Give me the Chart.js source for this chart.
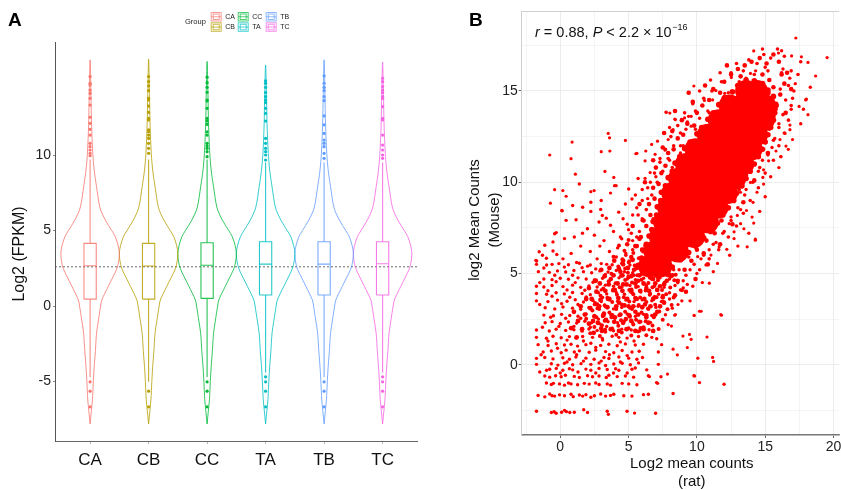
<!DOCTYPE html>
<html>
<head>
<meta charset="utf-8">
<script src="https://cdn.jsdelivr.net/npm/chart.js@4.4.1/dist/chart.umd.min.js"></script>
<style>
  html, body { margin: 0; padding: 0; background: #fff; overflow: hidden; width: 841px; height: 490px; }
  #wrapA { position: absolute; left: 0; top: 0; width: 430px; height: 490px; }
  #wrapB { position: absolute; left: 430px; top: 0; width: 420px; height: 490px; }
</style>
</head>
<body>
<div id="wrapA"><canvas id="chartA"></canvas></div>
<div id="wrapB"><canvas id="chartB"></canvas></div>
<script>
// ---------- panel A data ----------
const groups = ['CA', 'CB', 'CC', 'TA', 'TB', 'TC'];
const groupColors = ['#F8766D', '#B79F00', '#00BA38', '#00BFC4', '#619CFF', '#F564E3'];

// violin outline: log2 FPKM level and half width (in category units)
const violinLevels =    [-7.8, -7, -6.2, -5, -4, -3, -1.8, -1, 0, 0.4, 1.3, 2, 2.5, 3, 3.5, 4, 4.6, 5, 5.7, 6.5, 7.9, 9, 10.1, 12, 14];
const violinHalfWidth = [0, 0.02, 0.04, 0.055, 0.07, 0.09, 0.11, 0.14, 0.18, 0.2, 0.31, 0.4, 0.46, 0.49, 0.5, 0.48, 0.43, 0.37, 0.26, 0.17, 0.11, 0.07, 0.046, 0.025, 0.015];
const violinTop = [16.3, 16.35, 16.2, 15.95, 16.3, 16.15];

const boxQ1 =     [0.46, 0.46, 0.51, 0.73, 0.73, 0.73];
const boxMedian = [2.67, 2.65, 2.7, 2.78, 2.78, 2.8];
const boxQ3 =     [4.15, 4.15, 4.19, 4.26, 4.26, 4.26];
const whiskerLow =  [-4.7, -5.0, -4.7, -4.4, -4.7, -4.4];
const whiskerHigh = [9.7, 9.7, 9.7, 9.5, 9.5, 9.5];

const outliersHigh = [
  [15.19, 14.75, 14.64, 14.3, 14.08, 13.75, 13.31, 12.5, 12.1, 11.7, 11.32, 10.77, 10.55, 10.33, 10.11, 9.95],
  [15.19, 14.86, 14.57, 14.26, 13.75, 13.64, 13.24, 12.82, 12.42, 12.32, 11.66, 11.54, 11.32, 11.1, 10.77, 10.44, 10.11],
  [15.15, 14.79, 14.48, 14.15, 13.64, 13.58, 13.09, 12.42, 12.25, 12.03, 11.54, 11.32, 10.77, 10.6, 10.44, 10.22, 9.89],
  [14.91, 14.75, 14.48, 14.13, 13.87, 13.64, 13.47, 13.09, 12.76, 12.25, 11.1, 10.77, 10.44, 10.22, 10.0, 9.67],
  [15.24, 14.75, 14.48, 14.26, 13.87, 13.6, 12.59, 12.0, 11.43, 10.99, 10.77, 10.55, 10.11, 9.78],
  [15.08, 14.86, 14.53, 14.3, 14.13, 13.87, 13.75, 13.2, 12.42, 12.32, 11.32, 10.66, 10.33, 10.0, 9.78]
];
const outliersLow = [
  [-5.01, -5.63, -6.67],
  [-5.63, -6.67],
  [-5.01, -5.63, -6.67],
  [-4.68, -5.01, -5.63, -6.67],
  [-5.01, -5.63, -6.67],
  [-4.68, -5.01, -5.63, -6.67]
];
const overallMedian = 2.6;
const yTicksA = [-5, 0, 5, 10];

// ---------- panel B data: [log2 rat, log2 mouse] ----------
const coreBand = [
  [6.5,5.4],[7.4,5.4],
  [6.9,6.2],[7.8,6.2],[8.6,6.2],
  [7.3,7.0],[8.2,7.0],[9.1,7.0],[9.8,7.0],
  [7.6,7.8],[8.5,7.8],[9.4,7.8],[10.3,7.8],[10.8,7.8],
  [7.9,8.6],[8.8,8.6],[9.7,8.6],[10.6,8.6],[11.5,8.6],
  [8.2,9.4],[9.1,9.4],[10.0,9.4],[10.9,9.4],[11.8,9.4],[12.2,9.4],
  [8.7,10.2],[9.6,10.2],[10.5,10.2],[11.4,10.2],[12.3,10.2],[12.8,10.2],
  [9.2,11.0],[10.1,11.0],[11.0,11.0],[11.9,11.0],[12.8,11.0],[13.4,11.0],
  [9.9,11.8],[10.8,11.8],[11.7,11.8],[12.6,11.8],[13.5,11.8],[14.0,11.8],
  [10.8,12.6],[11.7,12.6],[12.6,12.6],[13.5,12.6],[14.4,12.6],
  [11.6,13.4],[12.5,13.4],[13.4,13.4],[14.3,13.4],[14.9,13.4],
  [12.4,14.2],[13.3,14.2],[14.2,14.2],[15.0,14.2],
  [13.6,15.0],[14.4,15.0]
];
const coreEdge = [
  [5.7,5.45],[5.95,5.85],[6.1,6.25],[6.3,6.6],[6.5,7.05],[6.7,7.4],[6.8,7.85],[7.05,8.2],[7.1,8.65],[7.35,9.0],
  [7.4,9.45],[7.7,9.8],[7.9,10.25],[8.2,10.6],[8.4,11.05],[8.75,11.4],[9.1,11.85],[9.5,12.2],[10.0,12.65],[10.35,13.0],
  [10.8,13.45],[11.2,13.8],[11.6,14.25],[12.0,14.6],[12.6,14.95],[13.0,15.3],[13.6,15.6],[14.2,15.55],[14.8,15.4],[15.2,15.05],
  [8.2,5.35],[7.9,4.95],[7.2,4.8],[6.6,4.8],[8.8,5.75],[9.4,6.15],[9.9,6.5],[10.5,6.95],[11.0,7.3],[11.5,7.75],
  [11.9,8.2],[12.3,8.6],[12.7,9.0],[12.9,9.4],[13.3,9.8],[13.6,10.2],[13.9,10.6],[14.2,11.0],[14.5,11.4],[14.8,11.8],
  [15.0,12.2],[15.2,12.6],[15.4,13.0],[15.6,13.4],[15.7,13.8],[15.8,14.2],[15.6,14.7],[15.2,14.9]
];
const haloBand = [
  [5.2,5.9],[5.6,6.5],[5.4,5.2],[5.9,7.0],[6.0,6.3],[6.3,7.6],[6.1,7.9],[6.6,8.2],[6.5,8.8],[6.9,9.1],
  [6.8,9.7],[7.2,9.9],[7.4,10.5],[7.0,10.8],[7.7,10.9],[7.9,11.6],[7.5,11.9],[8.3,11.8],[8.6,12.4],[8.2,12.8],
  [9.0,12.6],[9.3,13.2],[8.9,13.4],[9.8,13.1],[10.0,13.8],[10.4,14.2],[9.7,14.4],[10.9,14.5],[11.2,15.1],[11.7,14.9],
  [12.0,15.5],[12.5,15.9],[13.0,16.2],[13.5,16.4],[14.0,16.6],[14.6,16.8],[15.1,16.5],[15.6,17.0],[16.0,16.6],[13.2,15.8],
  [12.2,16.4],[10.6,15.3],[9.4,14.9],[8.4,13.9],[7.6,12.7],[6.8,11.2],[6.2,10.0],[5.8,8.8],[5.3,7.6],[4.9,6.6],
  [4.6,5.5],[5.0,4.8],[15.3,15.6],[14.8,15.9],[15.6,15.2],[16.2,15.9],
  [8.6,4.6],[9.1,5.2],[8.2,4.9],[9.6,5.7],[10.0,6.3],[10.5,6.1],[10.7,6.8],[11.3,7.2],[11.1,7.9],[11.8,7.9],
  [12.2,8.6],[12.0,9.2],[12.7,9.3],[13.1,9.9],[13.6,10.4],[13.9,11.0],[14.3,11.4],[14.6,12.0],[14.9,12.5],[15.3,13.0],
  [15.6,13.6],[15.8,14.3],[16.1,14.8],[16.4,15.4],[16.6,16.0],[15.2,11.6],[14.2,10.1],[13.4,8.9],[12.6,7.7],[11.7,6.6],
  [10.8,5.5],[9.9,4.7],[9.2,4.0],[8.4,3.8],[16.9,15.1],[16.5,13.8],
  [4.0,4.1],[4.6,4.4],[5.2,4.0],[5.7,4.6],[6.3,4.2],[6.8,4.7],[7.3,4.3],[7.8,4.6],[3.5,3.6],[4.3,3.4],
  [5.0,3.2],[5.6,3.6],[6.2,3.3],[6.9,3.7],[7.6,3.4],[3.2,2.8],[4.0,2.6],[4.8,2.5],[5.5,2.9],[6.3,2.6],
  [7.1,2.9],[3.7,4.7],[4.4,5.1],[6.0,5.0],[7.4,5.0],[8.0,5.3],[2.7,3.3],[2.4,2.4],[3.0,2.0],[5.9,2.0]
];
const tailDense = [
  [1.6,1.95],[2.1,2.25],[2.45,1.75],[2.75,2.3],[3.05,1.85],[3.35,2.45],[3.7,1.95],[3.95,2.35],[4.3,1.85],[4.6,2.3],
  [4.85,1.95],[5.2,2.4],[5.5,1.85],[5.8,2.35],[6.1,1.95],[6.45,2.3],[6.8,1.85],
  [1.8,2.75],[2.2,3.1],[2.5,2.65],[2.85,3.2],[3.15,2.7],[3.45,3.15],[3.8,2.7],[4.1,3.2],[4.4,2.75],
  [4.7,3.25],[5.05,2.7],[5.35,3.2],[5.7,2.75],[6.0,3.15],[6.3,2.7],[6.6,3.2],[6.95,2.75],[7.3,3.2],
  [2.3,3.6],[2.65,4.0],[2.95,3.55],[3.3,4.05],[3.6,3.6],[3.9,4.1],[4.25,3.65],[4.55,4.05],[4.9,3.6],[5.2,4.1],
  [5.5,3.65],[5.85,4.05],[6.15,3.6],[6.5,4.05],[6.8,3.6],[7.1,4.1],[7.5,3.7],
  [2.9,4.45],[3.25,4.85],[3.55,4.4],[3.9,4.9],[4.2,4.45],[4.55,4.9],[4.85,4.4],[5.2,4.85],[5.5,4.45],[5.8,4.9],
  [6.1,4.45],[6.95,4.45],[7.6,4.4],[8.1,4.85],
  [3.6,5.3],[3.95,5.7],[4.3,5.25],[4.6,5.7],[4.95,5.3],[5.3,5.75],[5.6,5.3],[5.95,5.75],[6.3,5.3],[6.0,6.3],
  [5.5,6.5],[5.8,6.9],
  [1.2,1.5],[0.8,2.0],[1.3,2.4],[1.0,2.9],[1.5,3.2],[1.9,3.6],[2.1,4.2],[2.6,4.6],[3.0,5.2]
];
const ringUpper = [
  [5.0,5.6],[5.3,6.3],[4.8,6.0],[5.6,7.0],[5.2,7.2],[6.0,7.9],[5.7,8.2],[6.3,8.5],[6.0,9.0],[6.7,9.3],
  [6.4,9.7],[7.1,10.0],[6.9,10.5],[7.5,10.6],[7.3,11.1],[7.9,11.3],[7.7,11.8],[8.3,12.0],[8.1,12.5],[8.8,12.7],
  [8.6,13.1],[9.3,13.3],[9.1,13.8],[9.9,13.9],[9.7,14.3],[10.5,14.6],[10.2,15.0],[11.1,15.0],[11.0,15.6],[11.8,15.5],
  [11.7,16.0],[12.5,16.0],[12.9,16.5],[13.4,16.1],[13.8,16.7],[14.4,16.5],[14.9,17.0],[15.4,16.8],[15.9,17.3],[16.4,16.9],
  [5.4,4.9],[6.2,6.5],[6.8,8.0],[7.6,9.6],[8.2,10.8],[9.0,12.0],[9.9,12.9],[10.9,13.8],[12.0,14.7],[13.1,15.5],
  [14.2,15.9],[15.2,16.1]
];
const ringLower = [
  [8.6,4.5],[9.2,4.9],[9.0,4.2],[9.8,5.5],[10.2,5.2],[10.5,6.0],[10.9,5.8],[11.2,6.6],[11.6,6.3],[11.9,7.2],
  [12.3,7.0],[12.5,7.9],[12.9,7.6],[13.0,8.6],[13.4,8.3],[13.5,9.3],[13.9,9.0],[14.1,10.0],[14.5,9.7],[14.6,10.8],
  [15.0,10.5],[15.2,11.5],[15.6,11.2],[15.6,12.3],[16.0,12.0],[16.0,13.0],[16.4,12.7],[16.3,13.7],[16.7,13.4],[16.5,14.5],
  [16.9,14.2],[16.7,15.3],[17.1,15.0],[16.9,16.1],[17.4,15.9],[17.6,16.6],[8.3,5.2],[9.4,5.9],[10.4,6.9],[11.4,7.7],
  [12.2,8.5],[13.1,9.6],[13.9,10.7],[14.7,11.9],[15.3,12.9],[15.8,14.0],[16.1,15.1],[16.2,16.0]
];
const tailSpeckle = [
  [2.2,1.72],[2.9,1.58],[3.3,1.8],[4.1,1.64],[4.5,1.77],[5.2,1.6],[5.7,1.82],[6.3,1.62],
  [2.5,2.07],[3.05,2.16],[3.8,1.98],[4.25,2.14],[5.0,2.0],[5.35,2.2],[6.1,2.06],[6.75,2.15],[7.2,1.96],
  [1.9,2.52],[2.65,2.6],[3.25,2.41],[3.75,2.6],[4.45,2.44],[5.1,2.63],[5.55,2.47],[6.25,2.38],[6.85,2.6],[7.5,2.46],
  [2.35,2.97],[2.85,3.05],[3.6,2.86],[4.1,3.06],[4.75,2.9],[5.25,3.05],[5.95,2.86],[6.45,3.06],[7.25,2.92],[7.85,3.04],
  [2.55,3.38],[3.25,3.26],[3.8,3.44],[4.5,3.3],[5.05,3.46],[5.75,3.27],[6.3,3.44],[6.95,3.28],[7.5,3.46],[8.15,3.27],
  [2.95,3.78],[3.45,3.67],[4.15,3.84],[4.65,3.7],[5.35,3.86],[5.85,3.68],[6.55,3.84],[7.05,3.7],[7.75,3.86],[8.3,3.69],
  [3.15,4.18],[3.85,4.07],[4.35,4.24],[5.05,4.1],[5.55,4.26],[6.25,4.07],[6.75,4.24],[7.45,4.1],[8.05,4.23],[8.9,4.08],
  [3.55,4.58],[4.05,4.47],[4.75,4.64],[5.25,4.5],[5.95,4.66],[6.45,4.48],[7.15,4.63],[7.65,4.5],[8.35,4.63],
  [3.75,4.98],[4.45,4.87],[4.95,5.04],[5.65,4.9],[6.25,5.06],[6.95,4.88],[7.55,5.03],[8.45,4.93],
  [4.25,5.38],[4.75,5.27],[5.45,5.43],[5.95,5.3],[6.65,5.45],[8.05,5.83],[8.7,6.04],
  [4.55,5.78],[5.05,5.67],[5.75,5.84],[6.2,5.7],[4.7,6.24],[5.35,6.12],[4.3,6.53],[3.9,5.92],[5.0,6.84]
];
const bandEdge = [
  [4.5,6.9],[5.0,7.4],[5.5,9.3],[6.0,9.6],[6.4,9.1],[5.7,10.2],[6.6,10.0],[7.0,10.3],[7.3,11.3],[8.0,11.2],
  [8.8,11.6],[8.0,13.0],[8.8,12.0],[9.2,12.9],[10.2,13.5],[10.8,13.9],[11.6,14.3],[12.3,14.9],[12.9,15.3],[13.6,15.7],
  [14.3,16.1],[15.0,16.3],[16.3,16.2],[16.8,15.7],[17.2,15.4],[17.0,14.6],[16.9,14.0],[16.0,13.2],[15.7,12.4],[15.5,11.9],
  [14.8,11.2],[14.5,10.6],[13.6,9.6],[13.2,8.5],[12.5,8.1],[12.0,7.3],[11.4,6.7],[10.9,6.3],[10.3,5.8],[9.5,5.2],
  [9.0,4.6],[8.8,4.1],[8.0,3.6],[7.5,3.8],[8.9,3.5],[9.3,4.4],[10.0,5.0],[10.4,4.5],[11.2,5.1],[12.4,6.0],
  [13.0,6.5],[13.8,7.2],[14.6,8.4],[15.0,9.2],[15.4,10.3],[16.0,10.8],[17.6,13.2],[17.8,14.0],[18.3,15.2],[16.2,17.2],
  [14.8,17.3]
];
const outlierCounts = [
  [17.24,17.9],[14.16,17.19],[15.97,17.08],[19.53,16.83],[16.93,16.92],[17.65,16.87],[18.13,16.56],[18.69,15.82],[12.52,15.74],[13.92,15.96],
  [9.78,15.27],[17.96,14.51],[17.48,14.15],[7.73,13.84],[8.02,13.79],[8.43,13.43],[9.1,13.52],[3.51,12.67],[3.61,12.43],[0.87,12.2],
  [4.77,12.29],[3.0,11.67],[3.63,11.71],[-0.77,11.49],[0.79,11.29],[5.61,11.58],[6.69,12.07],[16.81,12.88],[16.69,11.8],[16.08,12.34],
  [11.39,15.02],[12.04,14.87],[10.55,14.48],[9.39,13.61],[9.58,13.07],[8.26,12.88],[7.12,12.25],[6.26,11.71],[7.9,12.34],[1.11,10.44],
  [3.27,10.59],[3.92,10.26],[-0.41,9.59],[-0.72,8.85],[0.19,9.54],[0.43,9.23],[2.24,9.48],[2.48,9.54],[3.68,9.41],[3.97,9.81],
  [5.53,11.56],[6.21,10.21],[6.58,10.53],[6.94,11.53],[6.21,11.17],[7.66,11.76],[8.38,13.46],[7.77,13.83],[9.58,13.61],[11.15,14.51],
  [12.47,14.33],[18.01,14.55],[18.13,13.7],[16.81,13.13],[16.45,12.67],[17.0,12.34],[16.52,11.98],[16.13,11.4],[15.79,11.71],[15.25,11.17],
  [14.83,10.26],[14.4,9.45],[14.11,8.9],[14.16,7.76],[13.63,8.45],[13.68,6.46],[14.28,6.82],[12.72,6.91],[12.36,7.73],[12.96,8.18],
  [11.63,6.46],[11.03,6.01],[11.51,5.55],[10.66,5.47],[10.06,5.92],[13.44,7.45],[13.19,9.45],[13.92,9.99],[14.88,10.68],[14.88,9.9],
  [14.28,6.88],[12.19,6.32],[10.91,4.47],[11.75,2.75],[10.19,2.93],[8.43,2.75],[8.62,3.3],[12.72,7.28],[13.2,7.73],[14.04,8.09],
  [16.16,11.4],[11.8,2.71],[10.31,2.93],[8.38,2.71],[8.14,2.12],[7.9,2.2],[8.98,1.57],[9.46,1.66],[9.58,1.39],[10.74,1.52],
  [9.3,0.94],[8.26,0.85],[8.57,0.54],[10.07,0.36],[11.15,0.4],[11.22,0.18],[9.78,-0.6],[7.85,-0.51],[7.13,-1.02],[6.53,-0.65]
];
const midCounts = [
  [-1.78,5.72],[-1.54,6.19],[-1.3,6.0],[-0.53,6.73],[-0.29,7.24],[0.12,8.45],[0.91,8.72],[1.64,8.63],[2.24,8.9],[2.96,8.51],
  [3.08,8.18],[0.43,7.91],[1.16,7.94],[-0.41,7.18],[0.31,6.91],[1.03,7.0],[-1.13,6.55],[-0.53,6.23],[-1.73,5.68],[-1.01,5.83],
  [-0.25,6.04],[1.99,7.45],[2.24,8.4],[2.84,7.82],[3.37,8.03],[3.68,7.64],[4.28,8.36],[4.77,8.81],[5.25,9.08],[5.01,9.63],
  [4.09,9.81],[0.14,8.43],[1.63,7.2],[2.5,7.1],[3.2,6.8],[3.9,7.3],[4.4,7.0],[4.9,7.7],[5.3,8.2],[5.6,8.6],
  [4.2,6.4],[3.6,6.2],[2.9,6.5],[2.2,6.2],[1.5,6.5],[0.8,6.1],[0.2,5.8],[-0.6,5.5],[1.2,5.6],[2.0,5.4],
  [2.7,5.8],[3.4,5.5],[4.1,5.9],[4.8,6.1],[5.3,6.8],[5.8,7.3],[6.0,8.0],[4.6,8.0],[3.0,9.0],[1.4,9.9]
];
const lowCounts = [
  [-1.74,-2.55],[-0.65,-2.62],[-0.45,-2.58],[-0.3,-2.66],[0.1,-2.6],[0.31,-2.5],[0.45,-2.57],[0.7,-2.62],[1.03,-2.6],[1.72,-2.47],
  [2.0,-2.62],[3.44,-2.55],[3.52,-2.72],[4.89,-2.55],[5.44,-2.65],[6.98,-2.66],
  [-1.62,-1.68],[-1.13,-1.76],[-0.77,-1.6],[-0.6,-1.7],[-0.41,-1.72],[-0.05,-1.65],[0.31,-1.7],[0.79,-1.62],[0.95,-1.75],[1.4,-1.66],
  [1.64,-1.72],[1.88,-1.64],[2.24,-1.78],[2.5,-1.7],[2.96,-1.6],[3.32,-1.72],[3.68,-1.68],[3.92,-1.62],[4.65,-1.7],[5.25,-1.72],
  [6.09,-1.64],[6.45,-1.62],[8.26,-1.58],
  [-1.01,-1.0],[-0.65,-1.08],[-0.5,-1.02],[-0.05,-1.05],[0.31,-1.12],[0.6,-1.0],[0.79,-1.05],[1.27,-1.1],[1.76,-1.02],[2.12,-1.06],
  [2.6,-1.0],[2.84,-1.08],[3.44,-1.05],[3.68,-1.12],[4.53,-1.02],[5.01,-1.05],[5.61,-1.1],[7.05,-0.98],[10.19,-0.98],[11.99,-1.07],
  [-1.13,-0.62],[-0.77,-0.68],[-0.34,-0.6],[0.07,-0.66],[0.38,-0.58],[1.03,-0.64],[1.4,-0.7],[2.0,-0.6],[2.36,-0.66],[2.84,-0.62],
  [3.37,-0.7],[3.56,-0.58],[4.17,-0.65],[4.77,-0.62],[5.37,-0.68],[6.45,-0.6],[7.37,-0.66],[9.83,-0.62],
  [-0.77,-0.25],[-0.29,-0.2],[0.19,-0.3],[0.67,-0.22],[0.91,-0.28],[1.88,-0.24],[2.24,-0.3],[2.84,-0.2],[3.44,-0.26],[4.05,-0.22],
  [4.29,-0.3],[5.25,-0.25],[5.49,-0.18],[6.33,-0.28],
  [-1.74,0.02],[-0.65,0.05],[-0.17,-0.02],[0.31,0.08],[0.91,0.0],[1.52,0.06],[2.24,0.02],[2.84,0.1],[3.32,-0.04],[3.92,0.04],
  [4.53,0.08],[5.13,0.0],[5.73,0.1],[7.18,0.02],[-1.74,0.35],[-1.13,0.4],[-0.53,0.32],[0.19,0.38],[0.67,0.3],[1.15,0.42],
  [1.88,0.36],[2.48,0.3],[3.2,0.4],[3.56,0.34],[4.29,0.42],[5.01,0.36],[5.61,0.3],[6.02,0.4],
  [-1.25,0.7],[-0.65,0.75],[0.07,0.66],[0.43,0.8],[1.03,0.7],[1.4,0.76],[2.12,0.68],[2.6,0.8],[3.32,0.72],[3.92,0.66],
  [4.53,0.78],[5.25,0.7],[5.78,0.74],[7.18,0.7],[-1.62,1.1],[-0.89,1.05],[-0.29,1.15],[0.31,1.08],[0.79,1.12],[1.27,1.02],
  [1.88,1.1],[2.24,1.18],[2.96,1.06],[3.56,1.12],[4.17,1.04],[4.77,1.14],[5.49,1.08],[6.09,1.12],[7.42,1.1],
  [-1.74,1.5],[-1.01,1.45],[-0.53,1.56],[0.07,1.48],[0.67,1.54],[1.15,1.46],[1.64,1.55],[2.36,1.5],[3.08,1.44],[3.8,1.56],
  [4.29,1.5],[4.89,1.46],[5.73,1.55],[6.7,1.5],[7.06,1.42],[-1.74,1.9],[-0.8,1.85],[-0.3,1.95],[0.4,1.88],[1.0,1.92],
  [1.6,1.84],[2.1,1.96],[2.7,1.88],[3.3,1.94],[3.9,1.86],[4.5,1.95],[5.2,1.9],[5.8,1.84],[6.5,1.92],
  [-1.1,2.3],[-0.6,2.36],[0.0,2.26],[0.6,2.34],[1.2,2.28],[1.8,2.38],[2.3,2.3],[2.9,2.24],[3.5,2.36],[4.2,2.3],
  [4.7,2.4],[5.3,2.3],[5.9,2.36],[6.6,2.32],[-1.2,2.72],[-0.5,2.68],[0.1,2.76],[0.7,2.7],[1.3,2.66],[1.9,2.78],
  [2.5,2.7],[3.1,2.64],[3.7,2.74],[4.3,2.7],[4.9,2.78],[5.5,2.66],[6.1,2.76],[6.7,2.7],[7.7,2.74],[9.8,2.7],
  [-1.1,3.12],[-0.4,3.06],[0.2,3.16],[0.9,3.1],[1.5,3.04],[2.1,3.14],[2.7,3.08],[3.3,3.18],[3.9,3.06],[4.5,3.14],
  [5.1,3.1],[5.7,3.2],[6.4,3.08],[7.0,3.14],[8.2,3.1],[-1.74,3.5],[-0.9,3.46],[-0.2,3.54],[0.5,3.48],[1.1,3.56],
  [1.7,3.44],[2.4,3.52],[3.0,3.46],[3.6,3.56],[4.2,3.48],[4.8,3.54],[5.4,3.46],[6.0,3.56],[6.7,3.5],[7.4,3.46],[9.5,3.5],
  [-1.74,3.9],[-1.0,3.86],[-0.3,3.94],[0.3,3.88],[0.9,3.96],[1.6,3.9],[2.2,3.84],[2.8,3.94],[3.4,3.88],[4.1,3.96],
  [4.7,3.86],[5.3,3.92],[5.9,3.98],[6.6,3.9],[7.2,3.86],[8.0,3.94],[-1.74,4.3],[-1.2,4.26],[-0.6,4.34],[0.2,4.28],
  [0.9,4.36],[1.5,4.24],[2.1,4.32],[2.7,4.26],[3.3,4.36],[3.9,4.3],[4.5,4.24],[5.1,4.34],[5.7,4.28],[6.3,4.36],
  [6.9,4.3],[7.6,4.24],[8.4,4.34],[9.7,4.3],
  [-1.2,4.7],[-0.6,4.66],[0.0,4.74],[0.6,4.68],[1.3,4.76],[1.9,4.7],[2.5,4.64],[3.1,4.74],[3.7,4.68],[4.3,4.76],
  [4.9,4.7],[5.5,4.66],[6.1,4.74],[6.7,4.68],[7.3,4.76],[8.0,4.7],[-1.6,5.1],[-0.8,5.06],[-0.2,5.14],[0.4,5.08],
  [1.0,5.16],[1.7,5.1],[2.3,5.04],[2.9,5.14],[3.5,5.08],[4.1,5.16],[4.7,5.1],[5.3,5.04],[6.0,5.14],[7.0,5.1],
  [8.7,5.2],[-1.74,5.5],[-1.0,5.46],[-0.1,5.54],[0.6,5.48],[1.4,5.56],[2.2,5.46],[3.0,5.54],[3.8,5.48],[4.5,5.56],[5.1,5.46]
];
const lowExtra = [
  [-1.4,0.55],[-0.9,1.3],[-0.2,0.9],[0.5,1.35],[1.2,0.55],[1.7,1.3],[2.6,0.95],[3.1,1.35],[3.6,0.55],[4.4,1.25],[4.9,0.5],[5.4,1.3],
  [-1.3,2.05],[-0.7,2.6],[-0.1,2.1],[0.4,2.55],[1.0,2.1],[1.5,2.55],[2.2,2.05],[2.8,2.5],[3.4,2.1],[4.0,2.55],
  [-1.5,3.3],[-0.6,3.75],[0.1,3.35],[0.7,3.7],[1.3,3.3],[1.9,3.72],[2.5,3.3],[3.1,3.68],
  [-1.5,4.5],[-0.9,4.05],[-0.3,4.55],[0.5,4.1],[1.1,4.5],[1.8,4.08],[2.4,4.52],[3.0,4.1],
  [-1.2,5.3],[-0.4,4.9],[0.3,5.35],[0.9,4.9],[1.6,5.32],[2.6,5.25],[3.3,4.95],
  [-1.5,-0.4],[-1.0,-0.3],[0.0,-0.45],[0.5,0.15],[1.3,-0.4],[1.7,0.2],[2.6,-0.45],[3.0,0.2],[3.9,-0.45],[4.4,0.15],[4.9,-0.45]
];
const xTicksB = [-2.5, 0, 2.5, 5, 7.5, 10, 12.5, 15, 17.5, 20];
const yTicksB = [-2.5, 0, 2.5, 5, 7.5, 10, 12.5, 15, 17.5];

const FONT = "'Liberation Sans', Arial, sans-serif";
Chart.defaults.font.family = FONT;
Chart.defaults.animation = false;

function withAlpha(hex, a) {
  const n = parseInt(hex.slice(1), 16);
  return `rgba(${(n >> 16) & 255},${(n >> 8) & 255},${n & 255},${a})`;
}

// ---------- panel A datasets ----------
const dsA = [];
groups.forEach((g, i) => {
  const c = i + 1;
  const col = groupColors[i];
  const outline = [];
  violinLevels.forEach((lv, k) => outline.push({ x: c - violinHalfWidth[k], y: lv }));
  outline.push({ x: c, y: violinTop[i] });
  for (let k = violinLevels.length - 1; k >= 0; k--) outline.push({ x: c + violinHalfWidth[k], y: violinLevels[k] });
  dsA.push({ data: outline, showLine: true, borderColor: withAlpha(col, 0.8), borderWidth: 1, pointRadius: 0, tension: 0.3, fill: false });

  const hw = 0.105;
  const box = [
    { x: c - hw, y: boxQ1[i] }, { x: c + hw, y: boxQ1[i] }, { x: c + hw, y: boxQ3[i] }, { x: c - hw, y: boxQ3[i] }, { x: c - hw, y: boxQ1[i] },
    { x: c, y: null },
    { x: c - hw, y: boxMedian[i] }, { x: c + hw, y: boxMedian[i] },
    { x: c, y: null },
    { x: c, y: boxQ3[i] }, { x: c, y: whiskerHigh[i] },
    { x: c, y: null },
    { x: c, y: boxQ1[i] }, { x: c, y: whiskerLow[i] }
  ];
  dsA.push({ data: box, showLine: true, spanGaps: false, borderColor: withAlpha(col, 0.85), borderWidth: 1.1, pointRadius: 0, tension: 0 });

  const pts = outliersHigh[i].concat(outliersLow[i]).map(v => ({ x: c, y: v }));
  dsA.push({ data: pts, showLine: false, pointRadius: 1.6, pointBorderWidth: 0, backgroundColor: col });
});
dsA.push({
  data: [{ x: 0.4, y: overallMedian }, { x: 6.6, y: overallMedian }],
  showLine: true, borderColor: '#666', borderWidth: 1, borderDash: [2, 2], pointRadius: 0
});

const panelATexts = {
  id: 'panelATexts',
  afterDraw(chart) {
    const ctx = chart.ctx;
    ctx.save();
    ctx.fillStyle = '#000';
    ctx.font = `bold 19px ${FONT}`;
    ctx.textAlign = 'left';
    ctx.textBaseline = 'alphabetic';
    ctx.fillText('A', 8, 26);

    ctx.save();
    ctx.translate(20, 254);
    ctx.rotate(-Math.PI / 2);
    ctx.font = `16px ${FONT}`;
    ctx.textAlign = 'center';
    ctx.textBaseline = 'middle';
    ctx.fillStyle = '#111';
    ctx.fillText('Log2 (FPKM)', 0, 0);
    ctx.restore();

    // legend
    ctx.font = `7.5px ${FONT}`;
    ctx.textBaseline = 'middle';
    ctx.fillStyle = '#222';
    ctx.fillText('Group', 185, 22);
    const colX = [210.7, 237.7, 265.7];
    const rowY = [12, 22.3];
    ctx.font = `7px ${FONT}`;
    groups.forEach((g, i) => {
      const x = colX[Math.floor(i / 2)], y = rowY[i % 2];
      const col = groupColors[i];
      ctx.strokeStyle = withAlpha(col, 0.7);
      ctx.lineWidth = 1;
      ctx.strokeRect(x + 0.5, y + 0.5, 10, 8.5);
      ctx.strokeRect(x + 2.5, y + 2, 6, 5.5);
      ctx.beginPath();
      ctx.moveTo(x + 0.5, y + 4.75); ctx.lineTo(x + 10.5, y + 4.75);
      ctx.stroke();
      ctx.fillStyle = '#222';
      ctx.fillText(g, x + 14.5, y + 4.8);
    });
    ctx.restore();
  }
};

new Chart(document.getElementById('chartA'), {
  type: 'scatter',
  data: { datasets: dsA },
  options: {
    responsive: true,
    maintainAspectRatio: false,
    layout: { padding: { left: 0, right: 12.3, top: 42, bottom: 0 } },
    plugins: { legend: { display: false }, tooltip: { enabled: false } },
    scales: {
      x: {
        type: 'linear', min: 0.4, max: 6.6,
        afterBuildTicks: s => { s.ticks = groups.map((g, i) => ({ value: i + 1 })); },
        afterFit: s => { s.height = 49; },
        ticks: { callback: v => groups[v - 1], color: '#111', font: { size: 17 }, padding: 6 },
        grid: { display: true, drawOnChartArea: false, drawTicks: true, tickLength: 3, tickColor: '#bbb' },
        border: { display: true, color: '#666', width: 1 }
      },
      y: {
        type: 'linear', min: -8.93, max: 17.48,
        afterBuildTicks: s => { s.ticks = yTicksA.map(v => ({ value: v })); },
        afterFit: s => { s.width = 55; },
        ticks: { color: '#222', font: { size: 14 }, padding: 2 },
        grid: { display: true, drawOnChartArea: false, drawTicks: true, tickLength: 2, tickColor: '#888' },
        border: { display: true, color: '#555', width: 1 }
      }
    }
  },
  plugins: [panelATexts]
});

// ---------- panel B ----------
const toXY = arr => arr.map(p => ({ x: p[0], y: p[1] }));
const red = '#FF0000';
const dot = (arr, r) => ({ data: toXY(arr), pointRadius: r, pointBorderWidth: 0, backgroundColor: red });
const dsB = [
  dot(coreBand, 11),
  dot(coreEdge, 2.8),
  dot(haloBand, 2.3),
  dot(tailDense, 2.4),
  dot(ringUpper, 1.8),
  dot(ringLower, 1.8),
  dot(tailSpeckle, 2.0),
  dot(bandEdge, 1.7),
  dot(outlierCounts, 1.6),
  dot(midCounts, 1.7),
  dot(lowCounts, 1.7),
  dot(lowExtra, 1.7)
];

const panelBTexts = {
  id: 'panelBTexts',
  afterDraw(chart) {
    const ctx = chart.ctx, a = chart.chartArea;
    ctx.save();
    ctx.strokeStyle = '#cfcfcf';
    ctx.lineWidth = 1;
    ctx.beginPath();
    ctx.moveTo(a.left, a.top + 0.5); ctx.lineTo(a.right, a.top + 0.5);
    ctx.stroke();

    ctx.fillStyle = '#000';
    ctx.font = `bold 19px ${FONT}`;
    ctx.textBaseline = 'alphabetic';
    ctx.textAlign = 'left';
    ctx.fillText('B', 39, 26);

    // correlation label
    let x = 105;
    const base = 36.5;
    const parts = [['r', true], [' = 0.88, ', false], ['P', true], [' < 2.2 \u00d7 10', false]];
    ctx.fillStyle = '#111';
    parts.forEach(([t, it]) => {
      ctx.font = `${it ? 'italic ' : ''}14.5px ${FONT}`;
      ctx.fillText(t, x, base);
      x += ctx.measureText(t).width;
    });
    ctx.font = `9px ${FONT}`;
    ctx.fillText('\u221216', x + 0.5, base - 7);

    // axis titles
    ctx.font = `15px ${FONT}`;
    ctx.textAlign = 'center';
    ctx.textBaseline = 'middle';
    ctx.fillStyle = '#111';
    ctx.fillText('Log2 mean counts', 261.7, 464);
    ctx.fillText('(rat)', 261.7, 482);
    ctx.save();
    ctx.translate(45, 220);
    ctx.rotate(-Math.PI / 2);
    ctx.fillText('log2 Mean Counts', 0, 0);
    ctx.fillText('(Mouse)', 0, 20);
    ctx.restore();
    ctx.restore();
  }
};

const isMajor = v => Math.abs(v % 5) < 1e-9;
new Chart(document.getElementById('chartB'), {
  type: 'scatter',
  data: { datasets: dsB },
  options: {
    responsive: true,
    maintainAspectRatio: false,
    layout: { padding: { left: 0, right: 6.9, top: 7, bottom: 0 } },
    plugins: { legend: { display: false }, tooltip: { enabled: false } },
    scales: {
      x: {
        type: 'linear', min: -2.82, max: 20.4,
        afterBuildTicks: s => { s.ticks = xTicksB.map(v => ({ value: v })); },
        afterFit: s => { s.height = 55; },
        ticks: { callback: v => (isMajor(v) ? String(v) : ''), color: '#222', font: { size: 14 }, padding: 1, maxRotation: 0, autoSkip: false },
        grid: {
          color: '#ececec',
          lineWidth: c => (isMajor(c.tick.value) ? 1 : 0.6),
          tickLength: 3,
          tickColor: c => (isMajor(c.tick.value) ? '#666' : 'rgba(0,0,0,0)')
        },
        border: { display: true, color: '#777', width: 1.5 }
      },
      y: {
        type: 'linear', min: -3.85, max: 19.38,
        afterBuildTicks: s => { s.ticks = yTicksB.map(v => ({ value: v })); },
        afterFit: s => { s.width = 91.7; },
        ticks: { callback: v => (isMajor(v) ? String(v) : ''), color: '#222', font: { size: 14 }, padding: 1, autoSkip: false },
        grid: {
          color: '#ececec',
          lineWidth: c => (isMajor(c.tick.value) ? 1 : 0.6),
          tickLength: 3,
          tickColor: c => (isMajor(c.tick.value) ? '#666' : 'rgba(0,0,0,0)')
        },
        border: { display: true, color: '#cfcfcf', width: 1 }
      }
    }
  },
  plugins: [panelBTexts]
});
</script>
</body>
</html>
